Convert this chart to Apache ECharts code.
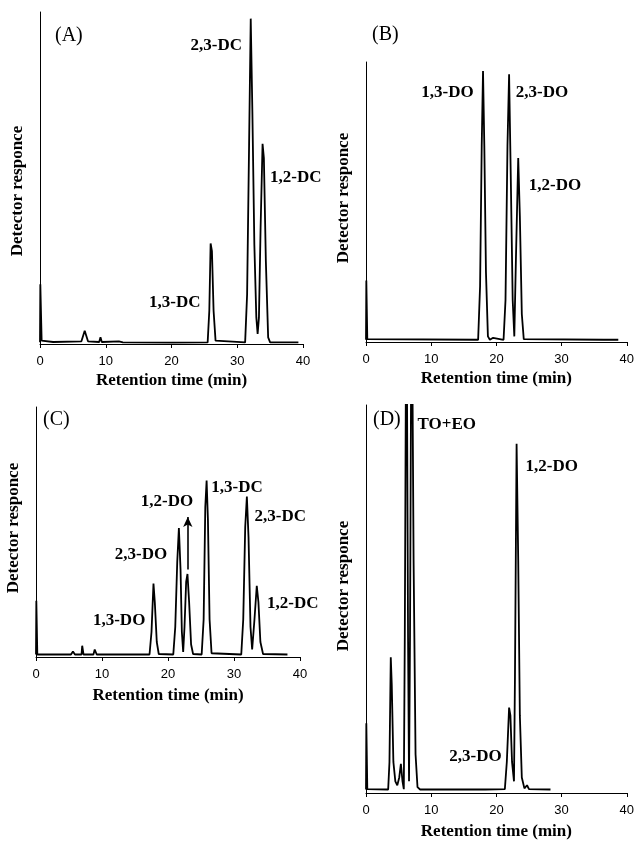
<!DOCTYPE html>
<html>
<head>
<meta charset="utf-8">
<title>Chromatograms</title>
<script src="https://cdn.jsdelivr.net/npm/echarts@6/dist/echarts.min.js"></script>
<style>
  html, body { margin: 0; padding: 0; background: #fff; }
  #chart { width: 637px; height: 841px; }
</style>
</head>
<body>
<div id="chart"></div>
<script>
// retention time ticks (min)
const timeTicks = [0, 10, 20, 30, 40]
const panelNames = ['(A)', '(B)', '(C)', '(D)']

// traces: [retention time (min), detector response (% of panel height)]
const traceA = [
  [0, 0.5], [0.05, 18], [0.25, 1], [2, 0.6], [6.3, 0.8], [6.8, 4], [7.1, 4], [7.3, 0.8],
  [9.0, 0.6], [9.2, 2], [9.4, 0.6], [12, 0.8], [12.6, 0.5], [20, 0.4], [25.5, 0.5],
  [25.75, 10], [25.95, 30.3], [26.15, 28], [26.4, 10], [26.7, 1], [27, 0.5], [31.2, 0.5],
  [31.5, 15], [31.8, 60], [32.05, 98], [32.3, 70], [32.6, 30], [32.9, 8], [33.1, 3],
  [33.3, 8], [33.55, 35], [33.85, 60.3], [34.05, 56], [34.35, 25], [34.7, 2], [35, 0.5],
  [39.3, 0.5]
]
const traceB = [
  [0, 0.8], [0.05, 22], [0.2, 1], [17.2, 0.8], [17.5, 20], [17.75, 70], [17.95, 96.8],
  [18.15, 70], [18.4, 25], [18.7, 2], [19, 0.8], [19.5, 1.5], [19.8, 0.8], [21.1, 0.8],
  [21.4, 15], [21.7, 70], [21.95, 95.6], [22.2, 60], [22.5, 15], [22.75, 2], [23.0, 30],
  [23.35, 65.7], [23.6, 45], [23.9, 10], [24.2, 1], [24.5, 0.8], [36.5, 0.8], [36.7, 1.5],
  [36.9, 0.8], [38.7, 0.8]
]
const traceC = [
  [0, 1], [0.05, 22.5], [0.2, 1], [5.3, 1], [5.6, 2.2], [5.9, 1], [6.9, 1], [7.0, 4.5],
  [7.2, 1], [8.7, 1], [8.9, 3], [9.2, 1], [17.2, 1], [17.5, 10], [17.8, 29.4], [18.0, 22],
  [18.3, 6], [18.6, 1.2], [20.8, 1], [21.1, 12], [21.4, 38], [21.65, 51.6], [21.9, 35],
  [22.1, 10], [22.3, 2], [22.5, 12], [22.75, 30], [22.95, 33.2], [23.2, 22], [23.5, 5],
  [23.8, 1.2], [25.1, 1], [25.4, 15], [25.65, 60], [25.85, 70.6], [26.05, 55], [26.3, 15],
  [26.6, 1.5], [31.1, 1], [31.4, 15], [31.7, 52], [31.95, 64.2], [32.2, 48], [32.5, 12],
  [32.75, 3], [33.1, 15], [33.45, 28.5], [33.7, 22], [34.0, 6], [34.4, 1.2], [38.1, 1]
]
const traceD = [
  [0, 0.9], [0.05, 18], [0.2, 1], [3.4, 0.9], [3.6, 8], [3.8, 35], [3.95, 28], [4.2, 8],
  [4.5, 3], [4.8, 2], [5.1, 4], [5.35, 7.5], [5.6, 3], [5.8, 1], [5.95, 40], [6.2, 140],
  [6.45, 40], [6.6, 3], [6.75, 40], [7.0, 140], [7.3, 60], [7.6, 10], [7.9, 1.5],
  [8.3, 0.9], [17.7, 0.9], [18.0, 1.4], [18.3, 0.9], [21.3, 1], [21.6, 8], [21.95, 22],
  [22.15, 20], [22.4, 8], [22.7, 3], [22.85, 30], [23.1, 90], [23.35, 60], [23.6, 20],
  [23.9, 4], [24.3, 1.2], [24.7, 2], [25.0, 1], [28.3, 0.9]
]

// peak names per panel
const peaksA = ['2,3-DC', '1,2-DC', '1,3-DC']
const peaksB = ['1,3-DO', '2,3-DO', '1,2-DO']
const peaksC = ['1,2-DO', '2,3-DO', '1,3-DO', '1,3-DC', '2,3-DC', '1,2-DC']
const peaksD = ['TO+EO', '1,2-DO', '2,3-DO']

const serif = 'Liberation Serif'
const sans = 'Liberation Sans'

const grids = [
  { left: 40, top: 12, width: 263, height: 332 },
  { left: 366, top: 62, width: 262, height: 280 },
  { left: 36, top: 407, width: 264, height: 250 },
  { left: 366, top: 405, width: 262, height: 389 }
]
// where each peak name sits, in data coordinates
const labelSpots = [
  [[26.8, 90], [38.9, 50], [20.5, 12.4]],
  [[12.5, 88.9], [27.0, 88.9], [29.0, 56]],
  [[19.85, 62], [15.9, 40.8], [12.6, 14.4], [30.45, 67.6], [37.0, 56], [38.9, 21.2]],
  [[12.4, 94.9], [28.5, 84.2], [16.8, 9.4]]
]
const titleSpots = [[55, 26], [372, 25], [43, 410], [373, 410]]
const yNamePad = [[0, 26, 0, 0], [0, 0, 0, 8], [0, 0, 0, 8], [0, 0, 0, 26]]
const xNameGap = [28, 28, 30, 30]

const traces = [traceA, traceB, traceC, traceD]
const peakNames = [peaksA, peaksB, peaksC, peaksD]

const chart = echarts.init(document.getElementById('chart'))

const xAxis = grids.map((g, i) => ({
  type: 'value',
  gridIndex: i,
  min: timeTicks[0],
  max: timeTicks[timeTicks.length - 1],
  interval: timeTicks[1] - timeTicks[0],
  name: 'Retention time (min)',
  nameLocation: 'middle',
  nameGap: xNameGap[i],
  nameTextStyle: { fontFamily: serif, fontWeight: 'bold', fontSize: 17, color: '#000' },
  axisLine: { show: true, onZero: false, lineStyle: { color: '#000', width: 1 } },
  axisTick: { show: true, inside: false, length: 4, lineStyle: { color: '#000' } },
  axisLabel: { fontFamily: sans, fontSize: 13, color: '#000', margin: 11 },
  splitLine: { show: false }
}))

const yAxis = grids.map((g, i) => ({
  type: 'value',
  gridIndex: i,
  min: 0,
  max: 100,
  name: 'Detector responce',
  nameLocation: 'middle',
  nameGap: 14,
  nameTextStyle: {
    fontFamily: serif, fontWeight: 'bold', fontSize: 17, color: '#000',
    padding: yNamePad[i]
  },
  axisLine: { show: true, lineStyle: { color: '#000', width: 1 } },
  axisTick: { show: false },
  axisLabel: { show: false },
  splitLine: { show: false }
}))

const series = traces.map((tr, i) => {
  const s = {
    type: 'line',
    xAxisIndex: i,
    yAxisIndex: i,
    data: tr,
    showSymbol: false,
    clip: true,
    lineStyle: { color: '#000', width: 1.8 },
    silent: true,
    markPoint: {
      silent: true,
      symbol: 'circle',
      symbolSize: 1,
      itemStyle: { color: 'rgba(0,0,0,0)' },
      label: {
        show: true,
        position: 'inside',
        fontFamily: serif,
        fontWeight: 'bold',
        fontSize: 17,
        color: '#000',
        formatter: p => p.name
      },
      data: peakNames[i].map((n, k) => ({ name: n, coord: labelSpots[i][k] }))
    }
  }
  if (i === 2) {
    // arrow pointing from the 1,2-DO peak up to its label
    s.markLine = {
      silent: true,
      symbol: ['none', 'arrow'],
      symbolSize: [7, 10],
      lineStyle: { color: '#000', width: 1.6, type: 'solid' },
      label: { show: false },
      data: [[{ coord: [23.0, 35] }, { coord: [23.0, 56] }]]
    }
  }
  return s
})

chart.setOption({
  animation: false,
  backgroundColor: '#fff',
  title: panelNames.map((t, i) => ({
    text: t,
    left: titleSpots[i][0],
    top: titleSpots[i][1],
    padding: 0,
    textStyle: { fontFamily: serif, fontWeight: 'normal', fontSize: 20, color: '#000' }
  })),
  grid: grids,
  xAxis,
  yAxis,
  series
})
</script>
</body>
</html>
